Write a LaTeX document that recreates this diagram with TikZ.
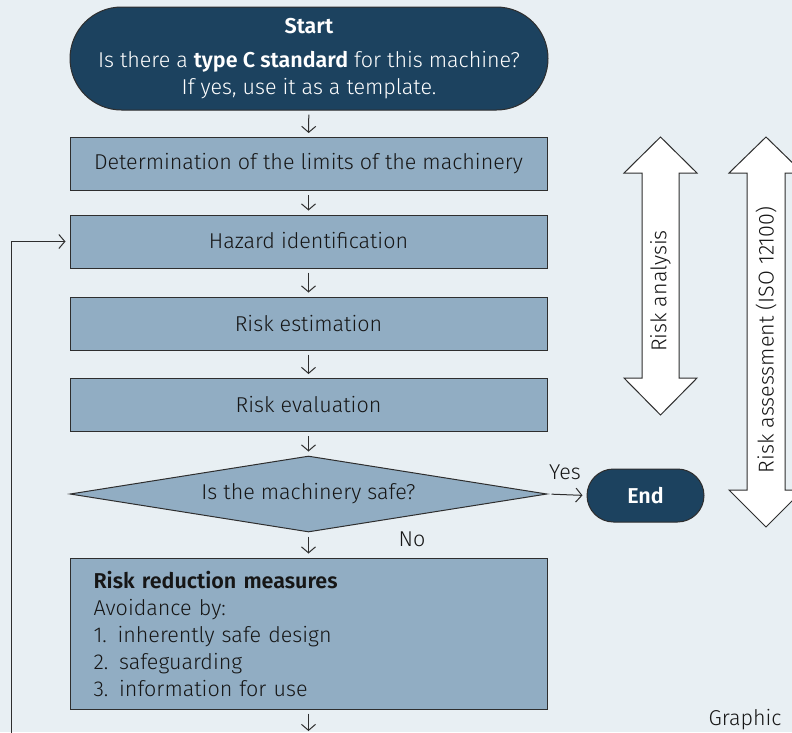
\documentclass[tikz,border=0pt]{standalone}
\usepackage{fontspec}
\setmainfont{Fira Sans}[UprightFont=* Light, BoldFont=* SemiBold]
\usetikzlibrary{arrows.meta,shapes.misc,shapes.geometric}
\definecolor{bgc}{HTML}{E8EFF3}
\definecolor{darkblue}{HTML}{1C425F}
\definecolor{boxfill}{HTML}{91ADC3}
\definecolor{linec}{HTML}{2E2E2E}
\definecolor{textc}{HTML}{161616}
\tikzset{
  txt/.style={font=\fontsize{21.5}{27}\selectfont, text=textc},
  procbox/.style={txt, draw=linec, line width=1pt, fill=boxfill, minimum width=477pt, minimum height=53pt, inner sep=0pt},
  terminal/.style={rounded rectangle, draw=linec, line width=1pt, fill=darkblue, text=white, font=\fontsize{21.5}{27}\selectfont, inner sep=0pt},
  decision/.style={diamond, aspect=6.28, txt, draw=linec, line width=1pt, fill=boxfill, minimum width=477pt, minimum height=76pt, inner sep=0pt},
  arr/.style={draw=linec, line width=1pt, -{Straight Barb[length=6pt,width=14pt,line width=1pt]}},
  bigarrow/.style={draw=linec, line width=1pt, fill=white},
}
\begin{document}
\begin{tikzpicture}[x=1pt,y=-1pt]
\useasboundingbox (0,0) rectangle (792,732);
\fill[bgc] (0,0) rectangle (792,732);
\begin{scope}
\clip (0,0) rectangle (792,732);
% terminals
\node[terminal, minimum width=478pt, minimum height=103pt, align=center] (start) at (309,58.5)
  {\textbf{Start}\\[7pt]Is there a \textbf{type C standard} for this machine?\\If yes, use it as a template.};
% process boxes
\node[procbox] (limits) at (308.5,164) {\raisebox{2pt}{Determination of the limits of the machinery}};
\node[procbox] (hazard) at (308.5,241.5) {\raisebox{2pt}{Hazard identification}};
\node[procbox] (estim) at (308.5,323.5) {\raisebox{1pt}{Risk estimation}};
\node[procbox] (evalu) at (308.5,405) {\raisebox{2pt}{Risk evaluation}};
\node[decision] (safe) at (308.5,494) {Is the machinery safe?};
\node[terminal, minimum width=117pt, minimum height=53pt] (end) at (645.5,495.5) {\textbf{End}};
\node[procbox, minimum height=151pt, align=left, text width=430pt, inner xsep=23.5pt] (reduce) at (308.5,633.5)
  {\textbf{Risk reduction measures}\\Avoidance by:\\1. inherently safe design\\2. safeguarding\\3. information for use};
% connectors
\draw[arr, shorten <=4pt, shorten >=4pt] (start) -- (limits);
\draw[arr, shorten <=4pt, shorten >=4pt] (limits) -- (hazard);
\draw[arr, shorten <=4pt, shorten >=4pt] (hazard) -- (estim);
\draw[arr, shorten <=4pt, shorten >=4pt] (estim) -- (evalu);
\draw[arr, shorten <=4pt, shorten >=4pt] (evalu) -- (safe);
\draw[arr, shorten <=4pt, shorten >=4pt] (safe) -- (reduce);
\draw[arr, shorten <=4pt, shorten >=4pt] (safe.east) -- (end.west);
\node[txt, anchor=south] (yes) at (565,483) {Yes};
\node[txt, anchor=north west] (no) at (395,528) {No};
\coordinate (below) at (308.5,735);
\draw[arr, shorten <=4pt, shorten >=4pt] (reduce) -- (below);
\coordinate (loopstart) at (11,740);
\draw[arr, shorten >=4pt] (loopstart) |- (hazard.west);
% big double arrows
\draw[bigarrow] (660.5,137) -- (697,173) -- (679,173) -- (679,378) -- (697,378) -- (660.5,415)
  -- (624,378) -- (642,378) -- (642,173) -- (624,173) -- cycle;
\node[txt, rotate=90] (analysis) at (660.5,291) {Risk analysis};
\draw[bigarrow] (766,137) -- (803,173) -- (785,173) -- (785,490) -- (803,490) -- (766,527)
  -- (729,490) -- (747,490) -- (747,173) -- (729,173) -- cycle;
\node[txt, rotate=90] (assess) at (766,340) {Risk assessment (ISO 12100)};
\node[txt, anchor=west] (graphic) at (705,720) {Graphic};
\end{scope}
\end{tikzpicture}
\end{document}
